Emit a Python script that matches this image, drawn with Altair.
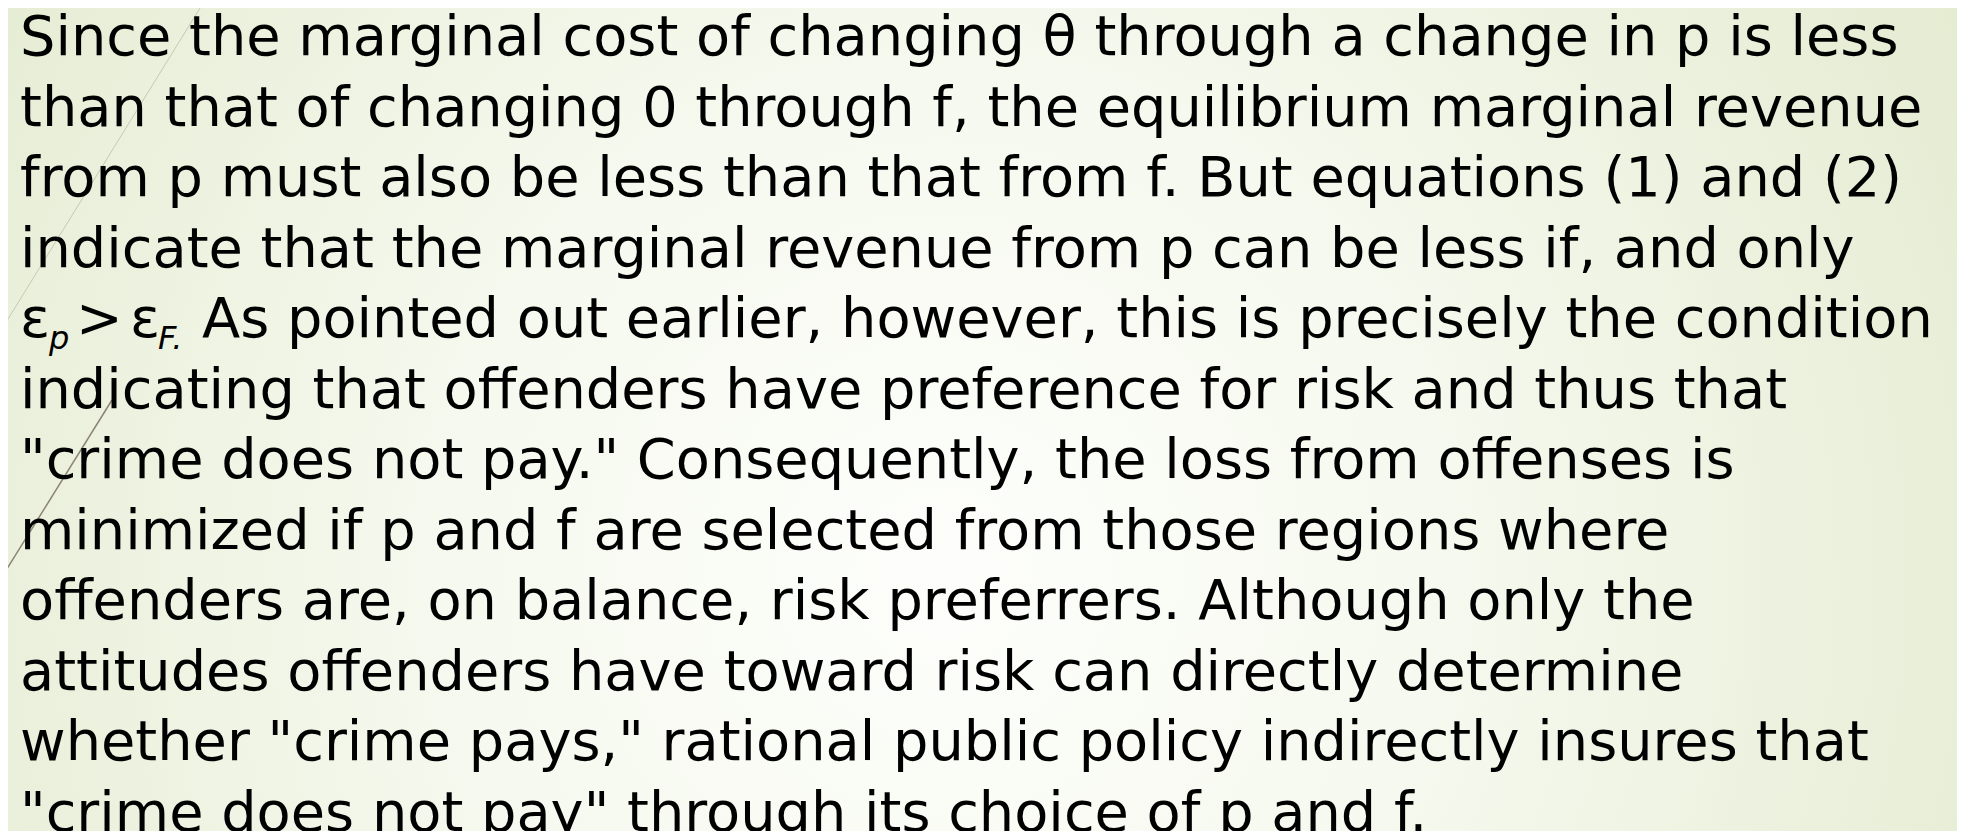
import altair as alt
import pandas as pd

# ---- content -------------------------------------------------------------
lines = [
    "Since the marginal cost of changing θ through a change in p is less",
    "than that of changing 0 through f, the equilibrium marginal revenue",
    "from p must also be less than that from f. But equations (1) and (2)",
    "indicate that the marginal revenue from p can be less if, and only",
    None,  # line 5 is built from pieces (subscripts)
    "indicating that offenders have preference for risk and thus that",
    "\"crime does not pay.\" Consequently, the loss from offenses is",
    "minimized if p and f are selected from those regions where",
    "offenders are, on balance, risk preferrers. Although only the",
    "attitudes offenders have toward risk can directly determine",
    "whether \"crime pays,\" rational public policy indirectly insures that",
    "\"crime does not pay\" through its choice of p and f.",
]
line5_parts = ["ε", "p", ">", "ε", "F.", "As pointed out earlier, however, this is precisely the condition"]
line5_is_sub = [False, True, False, False, True, False]

W, H = 1949, 823
FONT = "DejaVu Sans"
FS = 55.8

rows = [{"line": i, "text": t} for i, t in enumerate(lines) if t is not None]
df = pd.DataFrame(rows)

yscale = alt.Scale(domain=[0, 11], range=[47, 822.5])

bg = alt.Chart(pd.DataFrame({"k": [0]})).mark_rect(
    color=alt.RadialGradient(
        gradient="radial",
        x1=0.48, y1=0.58, r1=0.0,
        x2=0.48, y2=0.58, r2=0.72,
        stops=[
            alt.GradientStop(offset=0.0, color="#fdfefb"),
            alt.GradientStop(offset=0.35, color="#f6f9ef"),
            alt.GradientStop(offset=1.0, color="#dee7c7"),
        ],
    )
).encode(x=alt.value(0), x2=alt.value(W), y=alt.value(0), y2=alt.value(H))

deco1 = alt.Chart(pd.DataFrame({"k": [0]})).mark_rule(
    color="#c6c9b3", strokeWidth=1
).encode(x=alt.value(197), y=alt.value(-8), x2=alt.value(-8), y2=alt.value(324))

deco2 = alt.Chart(pd.DataFrame({"k": [0]})).mark_rule(
    color="#8c8472", strokeWidth=1.5
).encode(x=alt.value(104), y=alt.value(392), x2=alt.value(-8), y2=alt.value(572))

txt = alt.Chart(df).mark_text(
    font=FONT, fontSize=FS, align="left", baseline="alphabetic", color="#000000"
).encode(
    x=alt.value(12),
    y=alt.Y("line:Q", scale=yscale, axis=None),
    text="text:N",
)

layers = [bg, deco1, deco2, txt]

xpos = [12, 41, 68, 122, 150, 194]
for part, sub, xp in zip(line5_parts, line5_is_sub, xpos):
    d = pd.DataFrame({"line": [4], "text": [part]})
    m = alt.Chart(d).mark_text(
        font=FONT,
        fontSize=32 if sub else FS,
        fontStyle="italic" if sub else "normal",
        align="left",
        baseline="alphabetic",
        color="#000000",
        dy=12 if sub else 0,
    ).encode(
        x=alt.value(xp),
        y=alt.Y("line:Q", scale=yscale, axis=None),
        text="text:N",
    )
    layers.append(m)

chart = alt.layer(*layers).properties(
    width=W, height=H, padding=0, autosize=alt.AutoSizeParams(type="none")
).configure_view(stroke=None)

chart.save("out.html", embed_options={"renderer": "svg", "actions": False})
